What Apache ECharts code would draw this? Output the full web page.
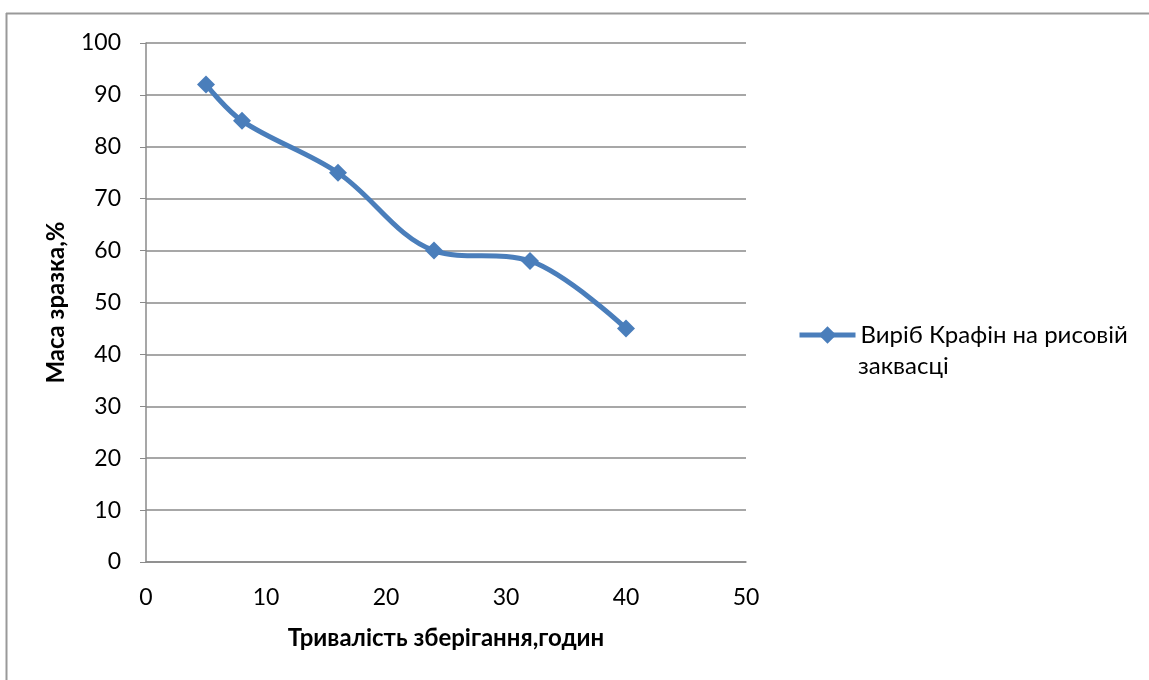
<!DOCTYPE html>
<html>
<head>
<meta charset="utf-8">
<script src="https://cdn.jsdelivr.net/npm/echarts@6/dist/echarts.min.js"></script>
<style>
  html, body { margin: 0; padding: 0; background: #fff; }
  #chart { width: 1149px; height: 680px; }
</style>
</head>
<body>
<div id="chart"></div>
<script>
// Storage time (hours) and remaining sample mass (%)
const hours = [5, 8, 16, 24, 32, 40];
const massPercent = [92, 85, 75, 60, 58, 45];
const seriesName = 'Виріб Крафін на рисовій заквасці';
const legendLines = ['Виріб Крафін на рисовій', 'заквасці'];
const xTitle = 'Тривалість зберігання,годин';
const yTitle = 'Маса зразка,%';

const FONT = 'Lato, "Open Sans", sans-serif';
const GRID_COLOR = '#8a8a8a';
const LINE_COLOR = '#4a7ebb';

const chart = echarts.init(document.getElementById('chart'), null, { renderer: 'canvas' });

chart.setOption({
  animation: false,
  backgroundColor: '#fff',
  textStyle: { fontFamily: FONT },
  grid: { left: 146, top: 43, right: 403, bottom: 118, containLabel: false },
  graphic: [
    // outer chart frame (top and left edges)
    { type: 'line', shape: { x1: 6, y1: 13.5, x2: 1149, y2: 13.5 }, style: { stroke: '#999', lineWidth: 2 } },
    { type: 'line', shape: { x1: 6.5, y1: 13, x2: 6.5, y2: 680 }, style: { stroke: '#999', lineWidth: 2 } },
    // second line of the legend entry
    { type: 'text', left: 858, top: 354, style: { text: legendLines[1], font: '24px ' + FONT, fill: '#000' } }
  ],
  xAxis: {
    type: 'value',
    min: 0, max: 50, interval: 10,
    name: xTitle,
    nameLocation: 'middle',
    nameGap: 64,
    nameTextStyle: { fontFamily: FONT, fontSize: 24, fontWeight: 'bold', color: '#000' },
    axisLine: { show: true, lineStyle: { color: GRID_COLOR, width: 1.5 } },
    axisTick: { show: false },
    splitLine: { show: false },
    axisLabel: { fontFamily: FONT, fontSize: 23, color: '#000', margin: 24 }
  },
  yAxis: {
    type: 'value',
    min: 0, max: 100, interval: 10,
    name: yTitle,
    nameLocation: 'middle',
    nameGap: 78,
    nameTextStyle: { fontFamily: FONT, fontSize: 24, fontWeight: 'bold', color: '#000' },
    axisLine: { show: true, lineStyle: { color: GRID_COLOR, width: 1.5 } },
    axisTick: { show: true, length: 6, inside: false, lineStyle: { color: GRID_COLOR } },
    splitLine: { show: true, lineStyle: { color: GRID_COLOR, width: 1.5 } },
    axisLabel: { fontFamily: FONT, fontSize: 23, color: '#000', margin: 25 }
  },
  legend: {
    left: 797,
    top: 323,
    padding: 0,
    orient: 'vertical',
    itemWidth: 56,
    itemHeight: 22,
    data: [{ name: seriesName }],
    formatter: () => legendLines[0],
    lineStyle: { width: 5 },
    textStyle: { fontFamily: FONT, fontSize: 24, color: '#000' }
  },
  series: [{
    name: seriesName,
    type: 'line',
    smooth: 0.35,
    data: hours.map((h, i) => [h, massPercent[i]]),
    symbol: 'diamond',
    symbolSize: 18,
    lineStyle: { color: LINE_COLOR, width: 5 },
    itemStyle: { color: LINE_COLOR },
    emphasis: { disabled: true }
  }]
});
</script>
</body>
</html>
